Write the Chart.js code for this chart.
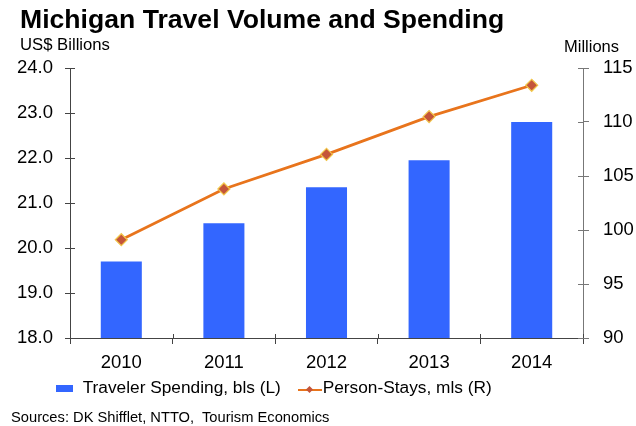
<!DOCTYPE html>
<html>
<head>
<meta charset="utf-8">
<title>Michigan Travel Volume and Spending</title>
<script src="https://cdn.jsdelivr.net/npm/chart.js@4.4.1/dist/chart.umd.min.js"></script>
<style>
  html, body { margin: 0; padding: 0; background: #fff; }
  #wrap { position: relative; width: 636px; height: 426px; overflow: hidden;
          font-family: "Liberation Sans", Arial, sans-serif; color: #000; }
  #chart { position: absolute; left: 0; top: 0; }
  .txt { position: absolute; white-space: nowrap; line-height: 1; }
  #title { left: 20px; top: 6px; font-size: 26.6px; font-weight: bold; color: #000; }
  #unit-l { left: 20px; top: 37px; font-size: 16.7px; }
  #unit-r { left: 564px; top: 37.5px; font-size: 16.5px; }
  #sources { left: 11px; top: 409.6px; font-size: 14.7px; }
  .lg-text { top: 379.4px; font-size: 17.3px; }
  #lg-bar { position: absolute; left: 56px; top: 385px; width: 17px; height: 7px; background: #3366ff; }
  #lg-line { position: absolute; left: 298px; top: 389px; width: 24px; height: 2px; background: #e8741c; }
  #lg-dot { position: absolute; left: 307px; top: 387px; width: 5px; height: 5px; background: #c4553a;
            transform: rotate(45deg); }
</style>
</head>
<body>
<div id="wrap">
  <canvas id="chart" width="636" height="426"></canvas>
  <div class="txt" id="title">Michigan Travel Volume and Spending</div>
  <div class="txt" id="unit-l">US$ Billions</div>
  <div class="txt" id="unit-r">Millions</div>
  <div id="lg-bar"></div>
  <div class="txt lg-text" style="left:82.7px">Traveler Spending, bls (L)</div>
  <div id="lg-line"></div>
  <div id="lg-dot"></div>
  <div class="txt lg-text" style="left:322.7px">Person-Stays, mls (R)</div>
  <div class="txt" id="sources">Sources: DK Shifflet, NTTO,&nbsp; Tourism Economics</div>
</div>

<script>
/* ── Data ── */
const years       = ['2010', '2011', '2012', '2013', '2014'];
const spending    = [19.7, 20.55, 21.35, 21.95, 22.8];   // US$ billions (left)
const personStays = [99.1, 103.8, 107.0, 110.5, 113.4];  // millions (right)

const leftMin  = 18, leftMax  = 24, leftStep  = 0.5;
const rightMin = 90, rightMax = 115, rightStep = 5;

/* ── Look ── */
const FONT      = '"Liberation Sans", Arial, sans-serif';
const AXIS      = '#444';
const AXIS_R    = '#777';
const BAR_BLUE  = '#3366ff';
const LINE_ORG  = '#e8741c';

/* inner half of the axis ticks (Chart.js only draws them outward) */
const innerTicks = {
  id: 'innerTicks',
  afterDraw(chart) {
    const ctx = chart.ctx;
    const { x, y, y1 } = chart.scales;
    ctx.save();
    ctx.lineWidth = 1;

    ctx.strokeStyle = AXIS;
    y.ticks.forEach((t, i) => {
      const py = Math.round(y.getPixelForTick(i)) + 0.5;
      ctx.beginPath();
      if (t.value % 1) { ctx.moveTo(y.right - 3, py); ctx.lineTo(y.right + 2, py); }
      else             { ctx.moveTo(y.right, py);     ctx.lineTo(y.right + 5, py); }
      ctx.stroke();
    });

    ctx.strokeStyle = AXIS_R;
    y1.ticks.forEach((t, i) => {
      const py = Math.round(y1.getPixelForTick(i)) + 0.5;
      ctx.beginPath();
      ctx.moveTo(y1.left - 5, py); ctx.lineTo(y1.left, py);
      ctx.stroke();
    });

    ctx.strokeStyle = AXIS;
    for (let i = 0; i <= years.length; i++) {
      const px = Math.round(x.getPixelForValue(i - 0.5)) + 0.5;
      ctx.beginPath();
      ctx.moveTo(px, x.top - 4); ctx.lineTo(px, x.top);
      ctx.stroke();
    }
    ctx.restore();
  }
};

Chart.defaults.font.family = FONT;
Chart.defaults.color = '#000';

new Chart(document.getElementById('chart'), {
  type: 'bar',
  data: {
    labels: years,
    datasets: [
      {
        type: 'line',
        label: 'Person-Stays, mls (R)',
        data: personStays,
        yAxisID: 'y1',
        order: 0,
        borderColor: LINE_ORG,
        borderWidth: 2.8,
        tension: 0,
        pointStyle: 'rectRot',
        pointRadius: 6,
        pointBackgroundColor: '#c4553a',
        pointBorderColor: '#f2c64a',
        pointBorderWidth: 1.2,
      },
      {
        label: 'Traveler Spending, bls (L)',
        data: spending,
        yAxisID: 'y',
        order: 1,
        backgroundColor: BAR_BLUE,
        categoryPercentage: 1,
        barPercentage: 0.4,
      },
    ],
  },
  options: {
    responsive: false,
    animation: false,
    devicePixelRatio: 1,
    layout: { padding: { top: 68, left: 0, right: 0, bottom: 0 } },
    plugins: { legend: { display: false }, tooltip: { enabled: false } },
    scales: {
      x: {
        grid: { drawOnChartArea: false, tickLength: 6, color: AXIS },
        border: { color: AXIS, width: 1 },
        ticks: { font: { size: 18.5 }, color: '#000', padding: 8 },
        afterFit: s => { s.height = 88; },
      },
      y: {
        position: 'left',
        min: leftMin, max: leftMax,
        grid: {
          drawOnChartArea: false, tickLength: 5,
          tickColor: c => (c.tick && c.tick.value % 1 ? 'rgba(0,0,0,0)' : AXIS),
        },
        border: { color: AXIS, width: 1 },
        ticks: {
          stepSize: leftStep,
          font: { size: 18.5 }, color: '#000', padding: 12,
          callback: v => (v % 1 ? '' : v.toFixed(1)),
        },
        afterFit: s => { s.width = 70; },
      },
      y1: {
        position: 'right',
        min: rightMin, max: rightMax,
        grid: { drawOnChartArea: false, tickLength: 6, tickColor: AXIS_R },
        border: { color: AXIS_R, width: 1 },
        ticks: { stepSize: rightStep, font: { size: 18.5 }, color: '#000', padding: 14 },
        afterFit: s => { s.width = 53; },
      },
    },
  },
  plugins: [innerTicks],
});
</script>
</body>
</html>
